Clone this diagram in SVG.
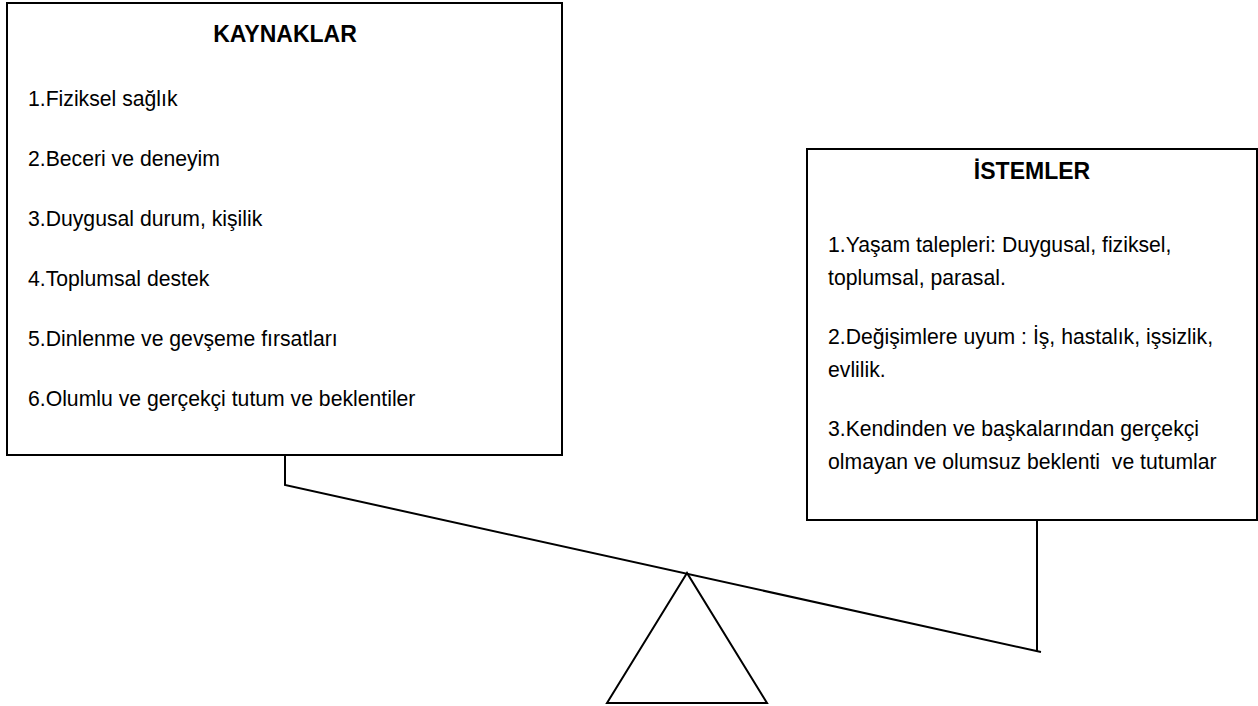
<svg xmlns="http://www.w3.org/2000/svg" width="1258" height="706" viewBox="0 0 1258 706">
  <style>
    .box { fill: #ffffff; stroke: #000000; stroke-width: 2; }
    .line { fill: none; stroke: #000000; stroke-width: 2; stroke-linejoin: miter; }
    .title { font-family: "Liberation Sans", Arial, sans-serif; font-size: 23px; font-weight: bold; fill: #000000; text-anchor: middle; }
    .item { font-family: "Liberation Sans", Arial, sans-serif; font-size: 21.2px; fill: #000000; white-space: pre; }
  </style>
  <rect x="0" y="0" width="1258" height="706" fill="#ffffff"/>

  <!-- balance: lever, hangers and fulcrum -->
  <g id="connectors">
    <polyline class="line" points="285,455 285,485 1041,652"/>
    <polyline class="line" points="1037,520 1037,652"/>
  </g>

  <g id="fulcrum">
    <polygon class="line" points="687,573 607,703 767,703"/>
  </g>

  <!-- resources -->
  <g id="kaynaklar">
    <rect class="box" x="7" y="3" width="555" height="452"/>
    <text class="title" x="285" y="42">KAYNAKLAR</text>
    <text class="item" x="28" y="106">1.Fiziksel sağlık</text>
    <text class="item" x="28" y="166">2.Beceri ve deneyim</text>
    <text class="item" x="28" y="226">3.Duygusal durum, kişilik</text>
    <text class="item" x="28" y="286">4.Toplumsal destek</text>
    <text class="item" x="28" y="346">5.Dinlenme ve gevşeme fırsatları</text>
    <text class="item" x="28" y="406">6.Olumlu ve gerçekçi tutum ve beklentiler</text>
  </g>

  <!-- demands -->
  <g id="istemler">
    <rect class="box" x="807" y="149" width="450" height="371"/>
    <text class="title" x="1032" y="179">İSTEMLER</text>
    <text class="item" x="828" y="252">1.Yaşam talepleri: Duygusal, fiziksel,</text>
    <text class="item" x="828" y="285">toplumsal, parasal.</text>
    <text class="item" x="828" y="344">2.Değişimlere uyum : İş, hastalık, işsizlik,</text>
    <text class="item" x="828" y="377">evlilik.</text>
    <text class="item" x="828" y="436">3.Kendinden ve başkalarından gerçekçi</text>
    <text class="item" x="828" y="469">olmayan ve olumsuz beklenti  ve tutumlar</text>
  </g>
</svg>
